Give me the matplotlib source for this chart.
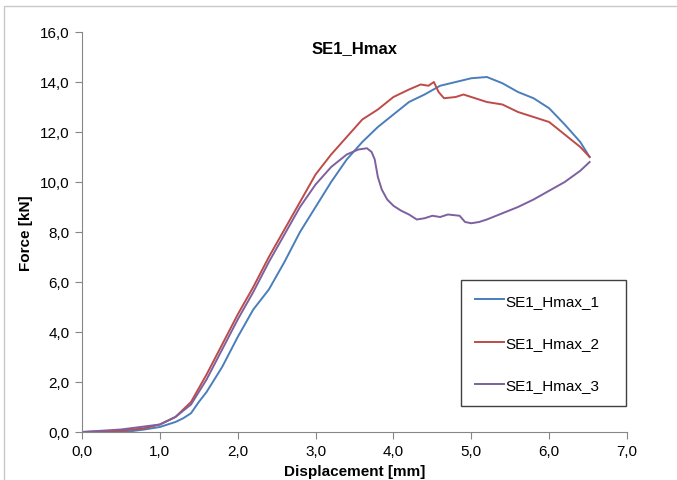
import matplotlib
matplotlib.use("Agg")
import matplotlib.pyplot as plt
from matplotlib.patches import Rectangle
from matplotlib.ticker import FuncFormatter, MultipleLocator

plt.rcParams['font.family'] = ['Liberation Sans', 'DejaVu Sans']

# SE1_Hmax_1
d1 = [0, 0.6, 0.8, 1.0, 1.2, 1.3, 1.4, 1.5, 1.6, 1.7, 1.8, 1.9, 2.0, 2.2, 2.4, 2.6, 2.8,
      2.9, 3.0, 3.2, 3.4, 3.6, 3.8, 4.0, 4.2, 4.4, 4.6, 4.8, 5.0, 5.2, 5.4, 5.6, 5.8,
      6.0, 6.2, 6.4, 6.52]
f1 = [0, 0.02, 0.1, 0.2, 0.4, 0.55, 0.75, 1.2, 1.6, 2.1, 2.6, 3.2, 3.8, 4.9, 5.7, 6.8, 8.0,
      8.5, 9.0, 10.0, 10.9, 11.6, 12.2, 12.7, 13.2, 13.5, 13.85, 14.0, 14.15, 14.2, 13.95,
      13.6, 13.35, 12.95, 12.3, 11.6, 11.0]

# SE1_Hmax_2
d2 = [0, 0.5, 0.8, 1.0, 1.2, 1.4, 1.6, 1.8, 2.0, 2.2, 2.4, 2.6, 2.8, 3.0, 3.2, 3.4, 3.6,
      3.8, 4.0, 4.2, 4.35, 4.45, 4.52, 4.58, 4.65, 4.8, 4.9, 5.0, 5.2, 5.4, 5.6, 5.8,
      6.0, 6.2, 6.4, 6.52]
f2 = [0, 0.05, 0.15, 0.3, 0.6, 1.2, 2.3, 3.5, 4.7, 5.8, 7.0, 8.1, 9.2, 10.3, 11.1, 11.8,
      12.5, 12.9, 13.4, 13.7, 13.9, 13.85, 14.0, 13.6, 13.35, 13.4, 13.5, 13.4, 13.2,
      13.1, 12.8, 12.6, 12.4, 11.9, 11.4, 11.0]

# SE1_Hmax_3
d3 = [0, 0.5, 1.0, 1.2, 1.4, 1.6, 1.8, 2.0, 2.2, 2.4, 2.6, 2.8, 3.0, 3.2, 3.4, 3.55, 3.66,
      3.72, 3.76, 3.8, 3.85, 3.92, 4.0, 4.1, 4.2, 4.3, 4.4, 4.5, 4.6, 4.7, 4.85, 4.92,
      5.0, 5.1, 5.2, 5.4, 5.6, 5.8, 6.0, 6.2, 6.4, 6.52]
f3 = [0, 0.1, 0.3, 0.6, 1.1, 2.1, 3.3, 4.5, 5.6, 6.8, 7.9, 9.0, 9.9, 10.6, 11.1, 11.3, 11.35,
      11.2, 10.9, 10.2, 9.7, 9.3, 9.05, 8.85, 8.7, 8.5, 8.55, 8.65, 8.6, 8.7, 8.65, 8.4,
      8.35, 8.4, 8.5, 8.75, 9.0, 9.3, 9.65, 10.0, 10.45, 10.8]

fig = plt.figure(figsize=(6.77, 4.81), dpi=100)
fig.patches.append(Rectangle((4 / 677, -0.1), 1.2, 1.1 - 7 / 481, transform=fig.transFigure,
                             fill=False, edgecolor='#c8c8c8', linewidth=1))
ax = fig.add_axes([82 / 677, 1 - 433 / 481, 545 / 677, 400 / 481])

ax.plot(d1, f1, color='#4A7EBB', lw=1.4, label='SE1_Hmax_1')
ax.plot(d2, f2, color='#BE4B48', lw=1.4, label='SE1_Hmax_2')
ax.plot(d3, f3, color='#7D60A0', lw=1.4, label='SE1_Hmax_3')

ax.set_xlim(0, 7)
ax.set_ylim(0, 16)
ax.xaxis.set_major_locator(MultipleLocator(1))
ax.yaxis.set_major_locator(MultipleLocator(2))
fmt = FuncFormatter(lambda v, p: f"{v:.1f}".replace('.', ','))
ax.xaxis.set_major_formatter(fmt)
ax.yaxis.set_major_formatter(fmt)
for s in ['top', 'right']:
    ax.spines[s].set_visible(False)
for s in ['left', 'bottom']:
    ax.spines[s].set_color('#868686')
ax.tick_params(direction='out', length=5, color='#868686', labelsize=11, pad=4)

ax.text(0.5, 0.962, 'SE1_Hmax', transform=ax.transAxes, ha='center', va='center',
        fontsize=12, fontweight='bold')
ax.set_xlabel('Displacement [mm]', fontsize=11, fontweight='bold', labelpad=4)
ax.set_ylabel('Force [kN]', fontsize=11, fontweight='bold', labelpad=5)

leg = ax.legend(loc='upper left', bbox_to_anchor=(0.6954, 0.38, 0.3028, 0.0), mode='expand',
                borderaxespad=0, fontsize=11, labelspacing=1.85, handlelength=1.9,
                handletextpad=0.1, borderpad=0.9, fancybox=False, framealpha=1)
leg.get_frame().set_edgecolor('#404040')
leg.get_frame().set_linewidth(1)

fig.savefig('out.png', dpi=100)
